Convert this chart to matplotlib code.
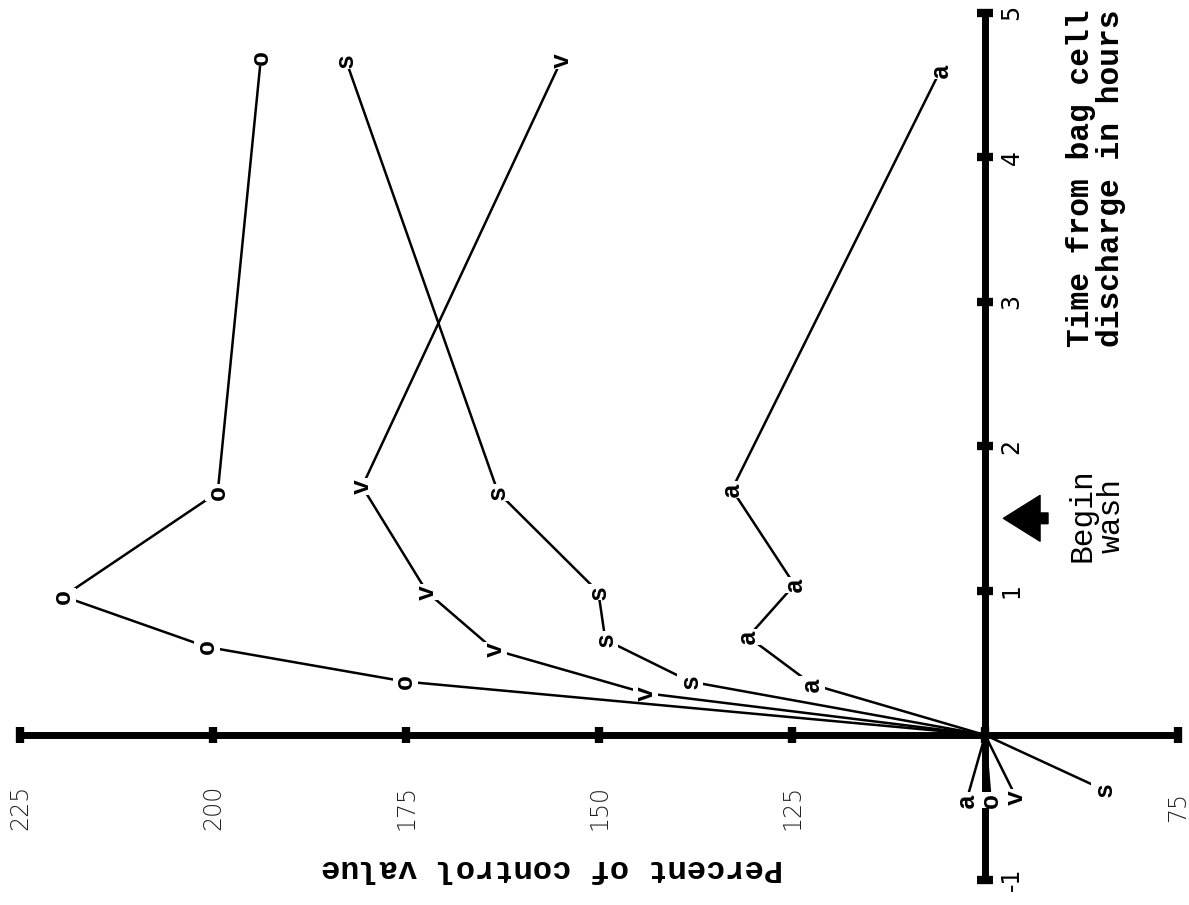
import numpy as np
import matplotlib.pyplot as plt

# datos (tiempo en horas, porcentaje del control)

time_o = [-0.45, 0, 0.37, 0.61, 0.96, 1.68, 4.69]
pct_o = [99.3, 100, 175.1, 200.8, 219.4, 199.4, 193.8]

time_s = [-0.38, 0, 0.37, 0.66, 0.99, 1.68, 4.67]
pct_s = [84.6, 100, 138.2, 149.2, 150.1, 163.1, 182.8]

time_v = [-0.43, 0, 0.29, 0.59, 0.99, 1.72, 4.67]
pct_v = [96.0, 100, 144.0, 163.6, 172.3, 180.7, 154.9]

time_a = [-0.45, 0, 0.35, 0.68, 1.04, 1.70, 4.60]
pct_a = [102.4, 100, 122.4, 130.7, 124.7, 132.8, 105.8]

series = [('o', time_o, pct_o), ('s', time_s, pct_s),
          ('v', time_v, pct_v), ('a', time_a, pct_a)]

pct_ticks = [225, 200, 175, 150, 125, 100, 75]
pct_labels = ['225', '200', '175', '150', '125', '', '75']
time_ticks = [-1, 1, 2, 3, 4, 5]
time_labels = ['-1', '1', '2', '3', '4', '5']
wash_time = 1.5

mono = 'Liberation Mono'

fig = plt.figure(figsize=(11.89, 9.05), dpi=100)
ax = fig.add_axes([0, 0, 1, 1])
ax.set_xlim(227.6, 73.6)
ax.set_ylim(-1.176, 5.087)
ax.axis('off')

# ejes
ax.plot([max(pct_ticks), min(pct_ticks)], [0, 0], c='k', lw=5, solid_capstyle='butt', zorder=3)
ax.plot([100, 100], [min(time_ticks), max(time_ticks)], c='k', lw=5, solid_capstyle='butt', zorder=3)
ax.plot(pct_ticks, np.zeros(len(pct_ticks)), ls='none', marker='|', ms=12, mew=6, c='k', zorder=3)
ax.plot(np.full(len(time_ticks), 100), time_ticks, ls='none', marker='_', ms=12, mew=6, c='k', zorder=3)

for p, lab in zip(pct_ticks, pct_labels):
    ax.text(p, -0.5, lab, rotation=90, ha='center', va='center', fontsize=17,
            family='DejaVu Sans', fontweight='light', color='#222222')
for t, lab in zip(time_ticks, time_labels):
    ax.text(96.6, t, lab, rotation=90, ha='center', va='center', fontsize=17)

# curvas
for letra, t, p in series:
    ax.plot(p, t, c='k', lw=1.8, zorder=2)
    for ti, pi in zip(t, p):
        if ti == 0:
            continue
        ax.text(pi, ti, letra, rotation=90, ha='center', va='center', fontsize=18,
                family=mono, fontweight='bold', zorder=4,
                bbox=dict(fc='white', ec='none', pad=0.6))

# lavado
ax.annotate('', xy=(98.0, wash_time), xytext=(91.5, wash_time),
            arrowprops=dict(arrowstyle='simple,head_width=1.5,head_length=1.2,tail_width=0.35',
                            fc='k', ec='k', mutation_scale=22))
ax.text(85.5, wash_time + 0.02, 'Begin\nwash', rotation=90, ha='center', va='center',
        fontsize=22.5, family=mono, linespacing=1.0)

ax.text(85.6, 3.85, 'Time from bag cell\ndischarge in hours', rotation=90, ha='center',
        va='center', fontsize=22.5, family=mono, fontweight='bold', linespacing=1.0,
        multialignment='left')

ax.text(156.1, -0.92, 'Percent of control value', rotation=180, ha='center', va='center',
        fontsize=23, family=mono, fontweight='bold')

fig.savefig('out.png', dpi=100)
